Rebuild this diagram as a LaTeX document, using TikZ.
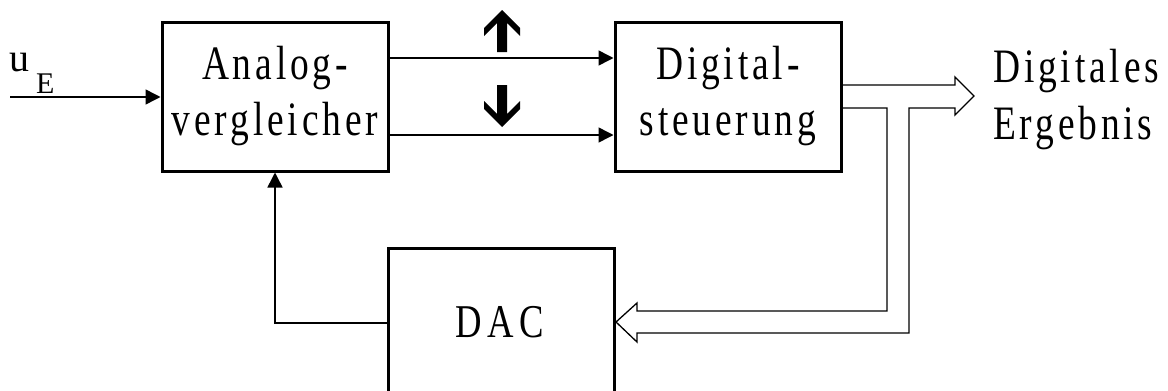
\documentclass[tikz,border=0pt]{standalone}
\usepackage{fontspec}
\setmainfont{Liberation Serif}
\newfontfamily\boxfont[FakeStretch=0.78,LetterSpace=8]{Liberation Serif}
\newfontfamily\dacfont[FakeStretch=0.78,LetterSpace=12]{Liberation Serif}
\usetikzlibrary{arrows.meta}
\tikzset{
  box/.style={draw, line width=3pt, minimum width=226pt, minimum height=149pt, inner sep=0pt, align=center,
    font=\boxfont\fontsize{48}{56}\selectfont},
  thin/.style={line width=1.5pt},
  arr/.style={thin, -{Triangle[length=15pt,width=15pt]}},
  bus/.style={line width=1.3pt, line join=miter},
  bigarrow/.style={fill=black, draw=none},
  lab/.style={inner sep=0pt, font=\dacfont\fontsize{47}{56}\selectfont},
}
\begin{document}
\begin{tikzpicture}[x=1pt,y=-1pt]
\clip (0,0) rectangle (1168,391);
\fill[white] (0,0) rectangle (1168,391);

\node[box] (A) at (275,96.5) {Analog-\\vergleicher};
\node[box] (D) at (728,96.5) {Digital-\\steuerung};
\node[box, minimum height=180pt, anchor=north] (dac) at (501.5,247) {};
\node[lab, anchor=base] (daclab) at (500,337) {DAC};

% input
\node[anchor=base west, inner sep=0pt, font=\fontsize{40}{42}\selectfont] (uE) at (9,71)
  {u\hspace{7pt}\raisebox{-22pt}{\fontsize{30}{30}\selectfont E}};
\coordinate (uin) at (10,97);
\draw[arr] (uin) -- (uin -| A.west);

% comparator outputs
\draw[arr] (A.east |- 0,58) -- (D.west |- 0,58);
\draw[arr] (A.east |- 0,135) -- (D.west |- 0,135);

% up / down block arrows
\fill[bigarrow] (502,10) -- (520,28) -- (520,36) -- (507,23) -- (507,52) -- (497,52) -- (497,23) -- (484,36) -- (484,28) -- cycle;
\fill[bigarrow] (502,127) -- (520,109) -- (520,101) -- (507,114) -- (507,85) -- (497,85) -- (497,114) -- (484,101) -- (484,109) -- cycle;

% feedback
\draw[arr] (dac.west |- 0,323) -| (A.south);

% output bus and bus to DAC
\draw[bus] (D.east |- 0,85) -- (955,85) -- (955,77) -- (974,96) -- (955,115) -- (955,108) -- (909,108)
  -- (909,333) -- (637,333) -- (637,342) -- (dac.east |- 0,322) -- (637,303) -- (637,311) -- (887,311)
  -- (887,108) -- (D.east |- 0,108);

% result text
\node[anchor=base west, inner sep=0pt, font=\boxfont\fontsize{48}{57}\selectfont] (res) at (993,82)
  {\begin{tabular}[t]{@{}l@{}}Digitales\\Ergebnis\end{tabular}};
\end{tikzpicture}
\end{document}
